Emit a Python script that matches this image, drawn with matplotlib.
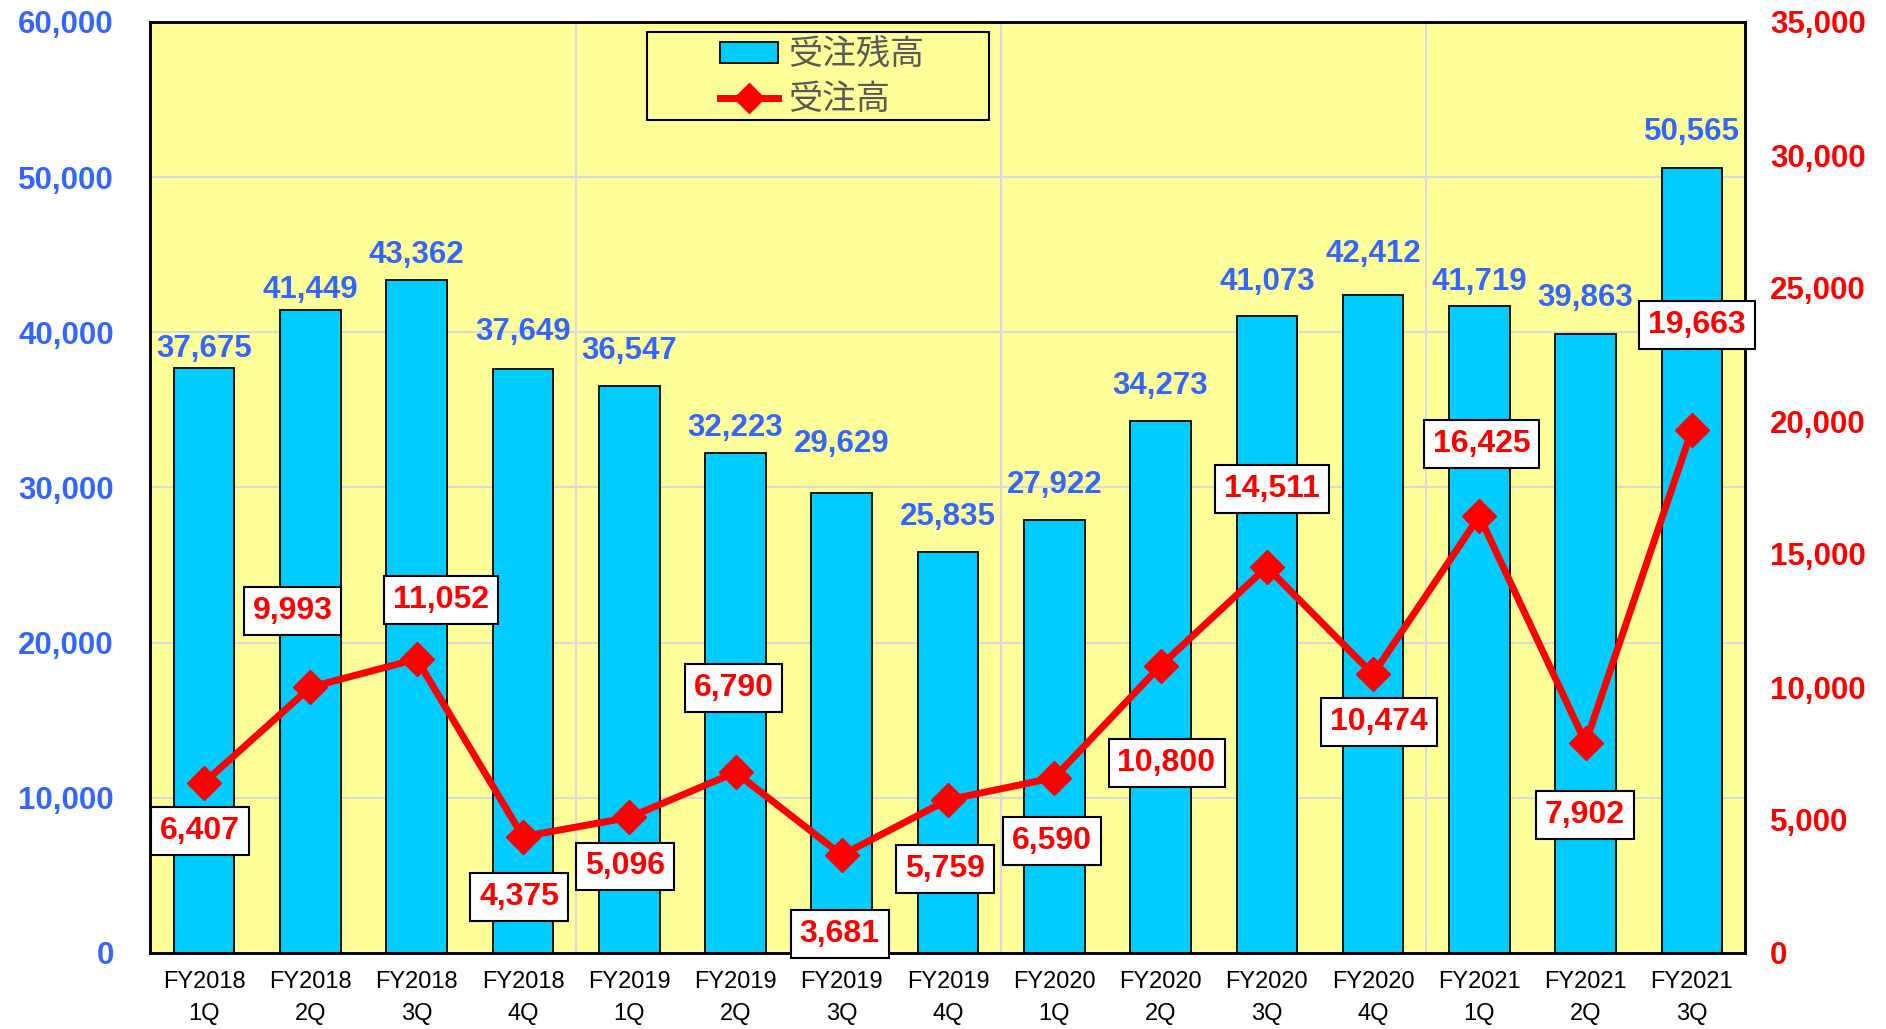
import matplotlib
matplotlib.use("Agg")
import matplotlib.pyplot as plt
from matplotlib.patches import Rectangle, Patch
from matplotlib.lines import Line2D
from matplotlib.ticker import FuncFormatter

plt.rcParams['font.family'] = ['Liberation Sans', 'Noto Sans CJK JP', 'DejaVu Sans']

# data
quarters = ["FY2018\n1Q", "FY2018\n2Q", "FY2018\n3Q", "FY2018\n4Q",
            "FY2019\n1Q", "FY2019\n2Q", "FY2019\n3Q", "FY2019\n4Q",
            "FY2020\n1Q", "FY2020\n2Q", "FY2020\n3Q", "FY2020\n4Q",
            "FY2021\n1Q", "FY2021\n2Q", "FY2021\n3Q"]
backlog = [37675, 41449, 43362, 37649, 36547, 32223, 29629, 25835,
           27922, 34273, 41073, 42412, 41719, 39863, 50565]
orders = [6407, 9993, 11052, 4375, 5096, 6790, 3681, 5759,
          6590, 10800, 14511, 10474, 16425, 7902, 19663]
backlog_name = "受注残高"
orders_name = "受注高"

# label placement (pixels)
bar_lbl_dy = [19, 20, 25, 37, 35, 25, 49, 35, 35, 35, 34, 41, 24, 36, 36]
line_lbl_off = [(-4, -48), (-18, 76), (24, 59), (-4, -60), (-4, -49),
                (-2, 84), (-2, -79), (-3, -69), (-2, -63), (6, -97),
                (5, 78), (6, -48), (2, 72), (-1, -72), (5, 105)]

BLUE = '#3366FF'
RED = '#FF0000'
CYAN = '#00CCFF'

fig = plt.figure(figsize=(18.86, 10.29), dpi=100)
ax = fig.add_axes([150 / 1886, 1 - 953 / 1029, 1595 / 1886, 931 / 1029])
ax.set_facecolor('#FFFF99')
ax2 = ax.twinx()

x = list(range(len(quarters)))
ax.bar(x, backlog, width=0.57, color=CYAN, edgecolor='black', linewidth=1.3, zorder=2)
ax.set_xlim(-0.51, 14.5)
ax.set_ylim(0, 60000)
ax.set_yticks(range(0, 60001, 10000))
ax.set_axisbelow(True)
ax.grid(axis='y', color='#D9D9D9', linewidth=1.5)
for gx in [3.5, 7.5, 11.5]:
    ax.axvline(gx, color='#D9D9D9', linewidth=1.5, zorder=0)

fmt = FuncFormatter(lambda v, p: f"{int(v):,}")
ax.yaxis.set_major_formatter(fmt)
ax.tick_params(axis='y', length=0, pad=26, labelsize=22.5, labelcolor=BLUE)
for t in ax.get_yticklabels():
    t.set_fontweight('bold')
ax.set_xticks(x)
ax.set_xticklabels(quarters, fontsize=17, linespacing=1.6)
ax.tick_params(axis='x', length=0, pad=13)

for i, v in enumerate(backlog):
    ax.annotate(f"{v:,}", (i, v), xytext=(0, bar_lbl_dy[i]), textcoords='offset pixels',
                ha='center', va='center', fontsize=22.5, fontweight='bold', color=BLUE)

ax2.plot(x, orders, color=RED, linewidth=5, marker='D', markersize=17,
         markerfacecolor=RED, markeredgecolor=RED, zorder=3)
ax2.set_ylim(0, 35000)
ax2.set_yticks(range(0, 35001, 5000))
ax2.yaxis.set_major_formatter(fmt)
ax2.tick_params(axis='y', length=0, pad=18, labelsize=22.5, labelcolor=RED)
for t in ax2.get_yticklabels():
    t.set_fontweight('bold')

for i, v in enumerate(orders):
    dx, dy = line_lbl_off[i]
    ax2.annotate(f"{v:,}", (i, v), xytext=(dx, dy), textcoords='offset pixels',
                 ha='center', va='center', fontsize=23, fontweight='bold', color=RED,
                 bbox=dict(boxstyle='square,pad=0.28', facecolor='white',
                           edgecolor='black', linewidth=1.5), zorder=5)

for a in (ax, ax2):
    for s in a.spines.values():
        s.set_linewidth(1.8)
        s.set_color('black')

# legend
ax2.add_patch(Rectangle((0.3116, 0.895), 0.2144, 0.094, transform=ax2.transAxes,
                        facecolor='#FFFF99', edgecolor='black', linewidth=1.5, zorder=6))
handles = [Patch(facecolor=CYAN, edgecolor='black', linewidth=1.3),
           Line2D([], [], color=RED, linewidth=5, marker='D', markersize=15)]
leg = ax2.legend(handles, [backlog_name, orders_name], loc='center',
                 bbox_to_anchor=(0.4215, 0.940), frameon=False, fontsize=24.5,
                 handlelength=1.7, handleheight=0.55, handletextpad=0.3,
                 labelspacing=0.38, labelcolor='#595959')
leg.set_zorder(7)

fig.savefig('out.png', dpi=100, facecolor='white')
